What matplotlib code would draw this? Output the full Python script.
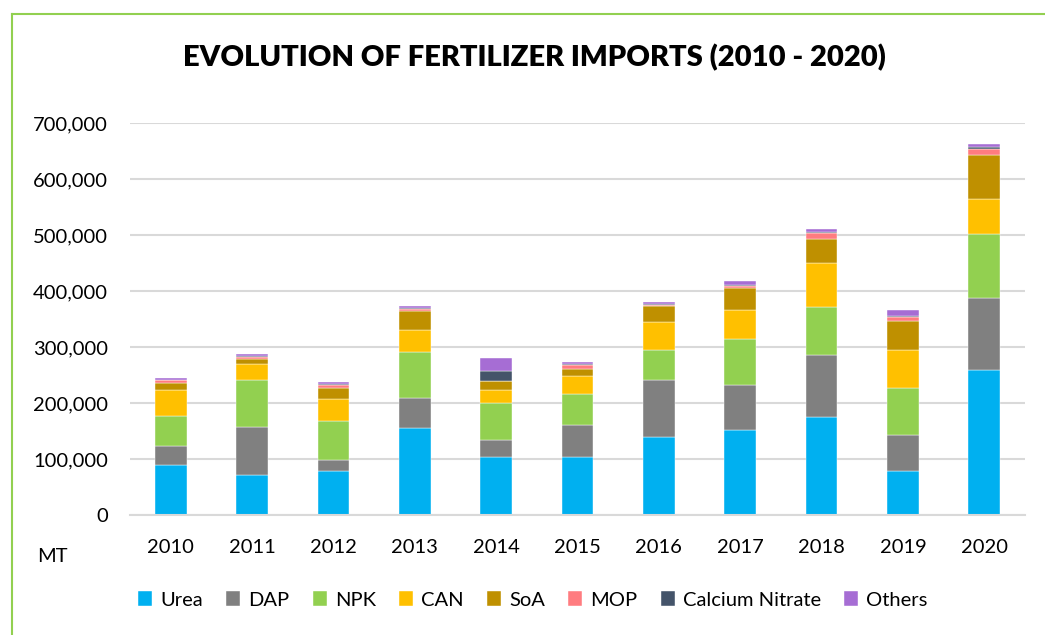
import matplotlib
matplotlib.use('Agg')
import matplotlib.pyplot as plt
from matplotlib.lines import Line2D
import numpy as np

plt.rcParams['font.family'] = ['Lato', 'DejaVu Sans']

years = ['2010', '2011', '2012', '2013', '2014', '2015', '2016', '2017', '2018', '2019', '2020']

# values in thousand MT
urea   = [90.0, 72.0, 78.6, 155.4, 104.2, 104.2, 138.7, 151.2, 175.6, 78.0, 259.6]
dap    = [34.0, 84.6, 20.2, 54.0, 30.3, 56.5, 103.0, 81.6, 110.7, 65.5, 128.0]
npk    = [52.0, 84.0, 68.5, 81.5, 66.1, 56.0, 52.3, 82.1, 85.7, 82.7, 114.8]
can    = [48.0, 29.2, 40.0, 39.4, 22.0, 32.0, 50.7, 51.8, 78.6, 67.9, 62.6]
soa    = [12.5, 9.5, 19.6, 33.4, 16.7, 11.3, 28.0, 39.3, 42.9, 53.0, 77.4]
mop    = [4.5, 3.5, 5.0, 4.2, 0.0, 7.8, 1.8, 3.0, 10.7, 6.5, 10.7]
ca_nit = [0.5, 1.5, 1.5, 1.5, 18.5, 2.4, 1.5, 2.3, 1.5, 2.4, 4.1]
others = [2.5, 3.5, 3.5, 3.8, 22.0, 3.0, 4.4, 6.0, 5.1, 9.5, 5.4]

series = [urea, dap, npk, can, soa, mop, ca_nit, others]
names = ['Urea', 'DAP', 'NPK', 'CAN', 'SoA', 'MOP', 'Calcium Nitrate', 'Others']
colors = ['#00B0F0', '#808080', '#92D050', '#FFC000', '#BF9000', '#FF7C80', '#44546A', '#A66DD4']

fig = plt.figure(figsize=(10.45, 6.35), dpi=100)
ax = fig.add_axes([130/1045, 1-515/635, 895/1045, 392/635])

x = np.arange(len(years))
bottom = np.zeros(len(years))
for vals, name, c in zip(series, names, colors):
    v = np.array(vals) * 1000
    ax.bar(x, v, 0.39, bottom=bottom, color=c, label=name, edgecolor='white', linewidth=0.3)
    bottom += v

ax.set_xlim(-0.5, len(years) - 0.5)
ax.set_ylim(0, 700000)
ax.set_yticks(np.arange(0, 700001, 100000))
ax.set_yticklabels([f'{int(t):,}' for t in np.arange(0, 700001, 100000)])
ax.set_xticks(x)
ax.set_xticklabels(years)
ax.tick_params(axis='both', length=0, labelsize=14.5, colors='black')
ax.tick_params(axis='y', pad=16)
ax.tick_params(axis='x', pad=17)
ax.grid(axis='y', color='#d9d9d9', linewidth=1.5)
ax.set_axisbelow(True)
for s in ['top', 'right', 'left']:
    ax.spines[s].set_visible(False)
ax.spines['bottom'].set_color('#d9d9d9')
ax.spines['bottom'].set_linewidth(1.5)

fig.text(534/1045, 1-58/635, 'EVOLUTION OF FERTILIZER IMPORTS (2010 - 2020)',
         ha='center', va='center', fontsize=21, fontweight='heavy')
fig.text(37/1045, 1-557/635, 'MT', ha='left', va='center', fontsize=14.5)

fig.legend(loc='center', bbox_to_anchor=(533/1045, 1-600/635), ncol=8, frameon=False,
           fontsize=14.5, handlelength=0.7, handleheight=0.7, handletextpad=0.4,
           columnspacing=1.15)

# green frame of the original chart box (only left and top visible)
fig.add_artist(Line2D([12/1045, 12/1045], [0, 1-14/635], color='#92D050', linewidth=1.5))
fig.add_artist(Line2D([12/1045, 1], [1-14/635, 1-14/635], color='#92D050', linewidth=1.5))

fig.savefig('out.png', dpi=100)
